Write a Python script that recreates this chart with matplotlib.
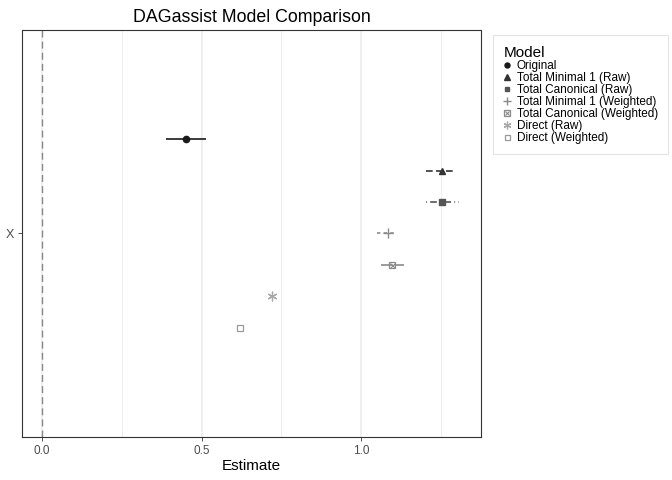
import numpy as np
import matplotlib
matplotlib.use("Agg")
import matplotlib.pyplot as plt
from matplotlib.lines import Line2D

plt.rcParams["font.family"] = ["Liberation Sans", "DejaVu Sans"]

# model estimates
models = ["Original", "Total Minimal 1 (Raw)", "Total Canonical (Raw)",
          "Total Minimal 1 (Weighted)", "Total Canonical (Weighted)",
          "Direct (Raw)", "Direct (Weighted)"]
estimate = [0.451, 1.254, 1.254, 1.084, 1.097, 0.720, 0.621]
ci_low = [0.389, 1.203, 1.204, 1.049, 1.063, 0.715, 0.617]
ci_high = [0.514, 1.292, 1.307, 1.112, 1.133, 0.725, 0.625]
term = "X"

colors = ["#1a1a1a", "#333333", "#555555", "#8a8a8a", "#8a8a8a", "#a8a8a8", "#999999"]
linestyles = ["-", (0, (4, 2)), (0, (0.5, 2, 4, 2)), (0, (2, 2)), (0, (7, 1)), "-", "-"]


def marker_kw(i, legend=False):
    # returns a list of marker styles (boxed square needs two layered)
    c = colors[i]
    s = 0.8 if legend else 1.0
    if i == 0:
        return [dict(marker="o", ms=4.5 * s, color=c)]
    if i == 1:
        return [dict(marker="^", ms=4.8 * s, color=c)]
    if i == 2:
        return [dict(marker="s", ms=4.3 * s, color=c)]
    if i == 3:
        return [dict(marker="+", ms=7 * s, color=c, mew=1.0)]
    if i == 4:
        return [dict(marker="s", ms=5 * s, mfc="none", mec=c, mew=0.9),
                dict(marker="x", ms=3.6 * s, color=c, mew=0.8)]
    if i == 5:
        return [dict(marker=(6, 2, 0), ms=7 * s, color=c, mew=0.9)]
    return [dict(marker="s", ms=4.5 * s, mfc="white", mec=c, mew=0.9)]


fig = plt.figure(figsize=(6.72, 4.8), dpi=100)
ax = fig.add_axes([0.0327, 0.0896, 0.6831, 0.8479])

ax.set_xlim(-0.063, 1.376)
ax.set_ylim(0.4, 1.6)

for v in [0.25, 0.75, 1.25]:
    ax.axvline(v, color="#ebebeb", lw=0.6, zorder=0)
for v in [0.0, 0.5, 1.0]:
    ax.axvline(v, color="#ebebeb", lw=1.1, zorder=0)
ax.axvline(0, color="#888888", lw=1.0, ls=(0, (5, 3)), zorder=1)

step = 0.0926
n = len(models)
handles = []
for i, m in enumerate(models):
    y = 1 + (n - 1) / 2 * step - i * step
    ax.plot([ci_low[i], ci_high[i]], [y, y], color=colors[i], lw=1.2,
            ls=linestyles[i], zorder=2, solid_capstyle="butt")
    for kw in marker_kw(i):
        ax.plot(estimate[i], y, ls="none", zorder=3, **kw)
    hs = tuple(Line2D([], [], ls="none", **kw) for kw in marker_kw(i, legend=True))
    handles.append(hs if len(hs) > 1 else hs[0])

ax.set_yticks([1])
ax.set_yticklabels([term])
ax.set_xticks([0.0, 0.5, 1.0])
ax.set_xticklabels(["0.0", "0.5", "1.0"])
ax.tick_params(axis="both", colors="#333333", labelsize=8.5, length=3, width=0.6,
               labelcolor="#4d4d4d", pad=2.5)
ax.tick_params(axis="y", labelsize=9)
for s in ax.spines.values():
    s.set_color("#333333")
    s.set_linewidth(0.8)

ax.set_xlabel("Estimate", fontsize=11, labelpad=2)
ax.set_title("DAGassist Model Comparison", fontsize=12.8, pad=6)

leg = fig.legend(handles, models, loc="upper left", bbox_to_anchor=(0.7336, 0.927),
                 title="Model", fontsize=8.5, title_fontsize=11, frameon=True,
                 handlelength=0.6, handletextpad=0.5, labelspacing=0.0,
                 borderpad=0.9, borderaxespad=0, fancybox=False, alignment="left")
leg.get_frame().set_edgecolor("#dddddd")
leg.get_frame().set_linewidth(0.8)

fig.savefig("out.png", dpi=100)
